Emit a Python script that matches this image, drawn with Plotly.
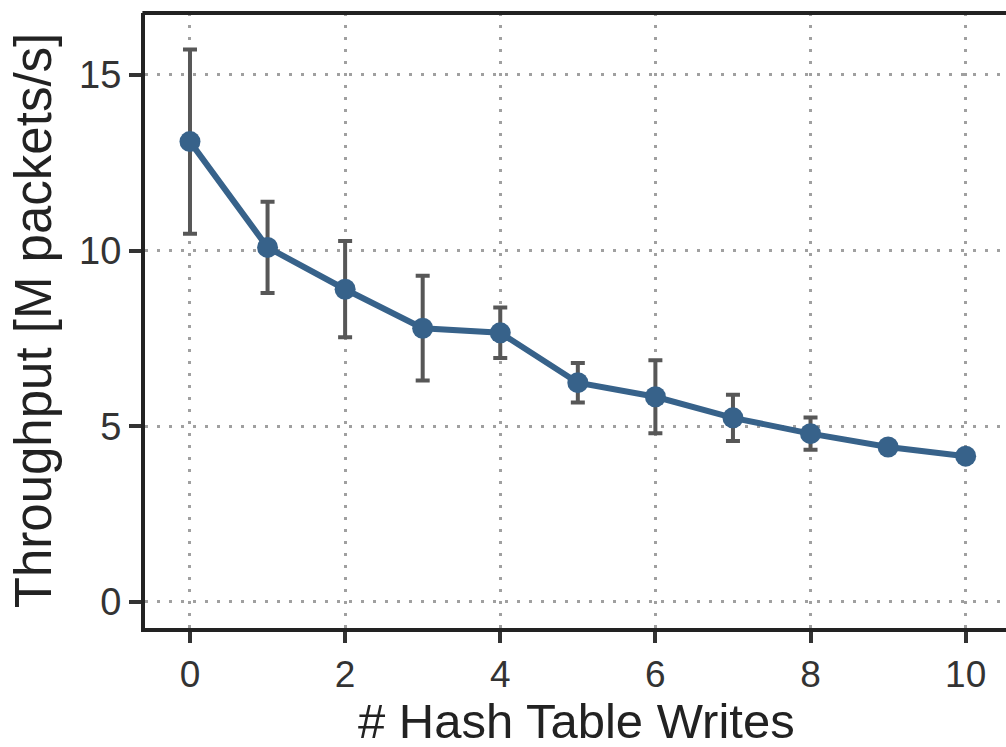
import plotly.graph_objects as go

writes = [0, 1, 2, 3, 4, 5, 6, 7, 8, 9, 10]
throughput = [13.10, 10.09, 8.90, 7.79, 7.66, 6.24, 5.84, 5.24, 4.79, 4.41, 4.15]
err = [2.62, 1.30, 1.37, 1.49, 0.72, 0.56, 1.04, 0.66, 0.46, 0.12, 0.10]
x_ticks = [0, 2, 4, 6, 8, 10]
y_ticks = [0, 5, 10, 15]
x_title = "# Hash Table Writes"
y_title = "Throughput [M packets/s]"

line_color = "#37628a"
font_family = "Liberation Sans, Arial, sans-serif"

fig = go.Figure()
fig.add_trace(go.Scatter(
    x=writes, y=throughput,
    mode="lines+markers",
    line=dict(color=line_color, width=6),
    marker=dict(color=line_color, size=21),
    error_y=dict(type="data", array=err, visible=True, color="#575757", thickness=4, width=7),
    showlegend=False,
))

grid = dict(showgrid=True, gridcolor="#a0a0a0", gridwidth=2.5, griddash="3px,9px", zeroline=False)

plot_h = 747 - 13 - 119

fig.update_layout(
    width=1006, height=747,
    margin=dict(l=145, r=0, t=13, b=119),
    paper_bgcolor="white", plot_bgcolor="white",
    font=dict(family=font_family, color="#333333"),
    xaxis=dict(
        range=[-0.58, 10.52], tickvals=x_ticks,
        showline=True, linecolor="#222222", linewidth=4,
        ticks="outside", ticklen=11, tickwidth=4, tickcolor="#333333",
        tickfont=dict(size=37, color="#333333"),
        **grid,
    ),
    yaxis=dict(
        range=[-0.74, 16.76], tickvals=y_ticks,
        showline=True, linecolor="#222222", linewidth=4,
        ticks="outside", ticklen=12, tickwidth=4, tickcolor="#333333",
        tickfont=dict(size=38, color="#333333"),
        title=dict(text=y_title, font=dict(size=51, color="#222222"), standoff=12),
        **grid,
    ),
    shapes=[dict(type="line", xref="paper", yref="paper", x0=-0.003, x1=1.05, y0=1, y1=1,
                 line=dict(color="#222222", width=4))],
    annotations=[dict(text=x_title, xref="x", yref="paper", x=4.98, y=-(721 - 628) / plot_h,
                      xanchor="center", yanchor="middle", showarrow=False, height=44,
                      font=dict(size=49, color="#222222", family=font_family))],
)

fig.write_html("out.html", config={"displayModeBar": False},
               post_script="document.body.style.margin='0';document.body.style.overflow='hidden';")
